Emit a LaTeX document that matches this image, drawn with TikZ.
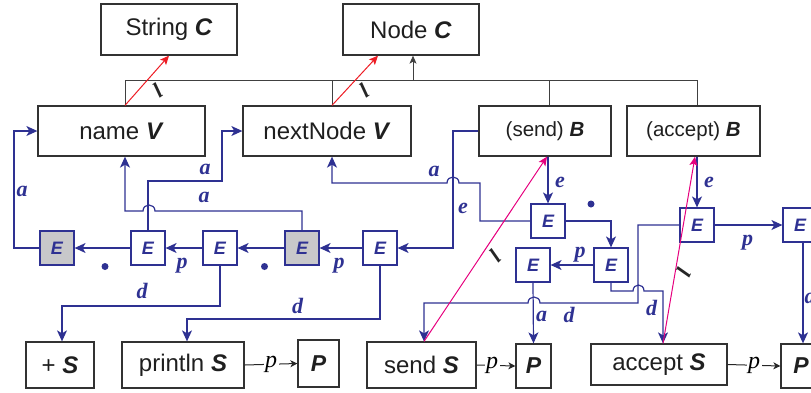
\documentclass[tikz,border=0pt]{standalone}
\usepackage{fontspec}
\setmainfont{Liberation Sans}
\newfontfamily\serifl{Liberation Serif}
\usetikzlibrary{arrows.meta}
\definecolor{eblue}{RGB}{46,49,146}
\definecolor{egrey}{RGB}{200,200,202}
\definecolor{emag}{RGB}{230,0,126}
\definecolor{ered}{RGB}{237,28,36}
\definecolor{bord}{RGB}{50,50,50}
\newcommand\BI[1]{\textbf{\textit{#1}}}
\begin{document}
\begin{tikzpicture}[x=1pt,y=-1pt,
  box/.style={draw=bord, line width=1.3pt, inner sep=0pt, text=black!88, font=\fontsize{24}{28}\selectfont},
  sbox/.style={box, font=\fontsize{20.5}{24}\selectfont},
  pbox/.style={box, font=\fontsize{23}{26}\selectfont\bfseries\itshape},
  ebox/.style={draw=eblue, line width=1.2pt, minimum width=34pt, minimum height=34pt, inner sep=0pt, text=eblue, font=\fontsize{18}{20}\selectfont\bfseries\itshape},
  egbox/.style={ebox, fill=egrey},
  bl/.style={draw=eblue, line width=1.2pt, -{Stealth[length=11pt,width=10pt,inset=3pt]}},
  lab/.style={text=eblue, inner sep=0pt, font=\serifl\fontsize{22}{24}\selectfont\bfseries\itshape},
  blab/.style={text=black, fill=white, inner sep=1.5pt, font=\serifl\fontsize{24}{26}\selectfont\itshape},
  dot/.style={circle, fill=eblue, inner sep=0pt, minimum size=7pt},
  hier/.style={draw=black!75, line width=1pt},
  rd/.style={draw=ered, line width=1pt, -{Stealth[length=9pt,width=8pt,inset=2pt]}},
  mg/.style={draw=emag, line width=1pt, -{Stealth[length=9pt,width=8pt,inset=2pt]}},
  ins/.style={text=black!85, inner sep=0pt, font=\serifl\fontsize{22}{24}\selectfont\bfseries\itshape},
  sp/.style={draw=black!85, line width=1pt, -{Stealth[length=7pt,width=7pt,inset=2pt]}}
]
\useasboundingbox (0,0) rectangle (811,392);

% top classes
\node[box, minimum width=136pt, minimum height=51pt] (strC) at (169,29.5) {String \BI{C}};
\node[box, minimum width=136pt, minimum height=51pt] (nodeC) at (411,29.5) {Node \BI{C}};

% second row
\node[box, minimum width=167pt, minimum height=50pt] (nameV) at (121.5,131) {name \BI{V}};
\node[box, minimum width=168pt, minimum height=50pt] (nextV) at (327,131) {nextNode \BI{V}};
\node[sbox, minimum width=132pt, minimum height=50pt] (sendB) at (545,131) {(send) \BI{B}};
\node[sbox, minimum width=133pt, minimum height=50pt] (accB) at (693.5,131) {(accept) \BI{B}};

% E row
\node[egbox] (E1) at (57,248) {E};
\node[ebox] (E2) at (148,248) {E};
\node[ebox] (E3) at (220,248) {E};
\node[egbox] (E4) at (302,248) {E};
\node[ebox] (E5) at (380,248) {E};
\node[ebox] (Es1) at (548,221) {E};
\node[ebox] (Es2) at (611,265) {E};
\node[ebox] (Es3) at (533,265) {E};
\node[ebox] (Ea1) at (697,225) {E};
\node[ebox] (Ea2) at (800,225) {E};

% bottom row
\node[box, minimum width=68pt, minimum height=46pt] (plusS) at (60,365) {+ \BI{S}};
\node[box, minimum width=122pt, minimum height=46pt] (printS) at (183,365) {println \BI{S}};
\node[pbox, minimum width=41pt, minimum height=47pt] (P1) at (318.5,363.5) {P};
\node[box, minimum width=109pt, minimum height=46pt] (sendS) at (421.5,365) {send \BI{S}};
\node[pbox, minimum width=35pt, minimum height=44pt] (P2) at (533.5,366) {P};
\node[box, minimum width=136pt, minimum height=41pt] (accS) at (659,364.5) {accept \BI{S}};
\node[pbox, minimum width=40pt, minimum height=44pt] (P3) at (801,366) {P};

% hierarchy
\coordinate (barL) at (125,80);
\coordinate (barR) at (697,80);
\coordinate (barN) at (332,80);
\coordinate (barS) at (549,80);
\coordinate (hub) at (413,80);
\draw[hier] ([xshift=3.5pt]nameV.north) -- (barL) -- (barR) -- ([xshift=3.5pt]accB.north);
\draw[hier] ([xshift=5pt]nextV.north) -- (barN);
\draw[hier] ([xshift=4pt]sendB.north) -- (barS);
\draw[hier, -{Stealth[length=8pt,width=7pt,inset=2pt]}] (hub) -- ([xshift=2pt]nodeC.south);

% red instance arrows
\draw[rd] ([xshift=3.5pt]nameV.north) -- (strC.south);
\draw[rd] ([xshift=5pt]nextV.north) -- ([xshift=-33pt]nodeC.south);
\node[ins, rotate=35] (i1) at (157.5,90) {l};
\node[ins, rotate=35] (i2) at (364,90) {l};

% E chain
\draw[bl] (E5.west) -- (E4.east);
\draw[bl] (E4.west) -- (E3.east);
\draw[bl] (E3.west) -- (E2.east);
\draw[bl] (E2.west) -- (E1.west -| E1.east);
\node[lab] (l1) at (339,266) {p};
\node[dot] (d1) at (264.5,266.5) {};
\node[lab] (l2) at (182,266) {p};
\node[dot] (d2) at (105,266.5) {};

% a-links
\draw[bl] (E1.west) -- (14,248) -- (14,131) -- (nameV.west);
\node[lab] (l3) at (22,191) {a};
\draw[bl] (E4.north) -- (302,211) -- (155,211) .. controls (155,203) and (143,203) .. (143,211) -- (125,211) -- ([xshift=3.5pt]nameV.south);
\node[lab] (l4) at (204,197) {a};
\draw[bl] (E2.north) -- (148,181) -- (222,181) -- (222,131) -- (nextV.west);
\node[lab] (l5) at (205,169) {a};
\draw[bl] (Es1.west) -- (480,221) -- (480,183) -- (459,183) .. controls (459,175) and (447,175) .. (447,183) -- (332,183) -- ([xshift=5pt]nextV.south);
\node[lab] (l6) at (434,171) {a};

% e-links
\draw[bl] (sendB.west) -- (453,131) -- (453,248) -- (E5.east);
\node[lab] (l7) at (463,208) {e};
\draw[bl] ([xshift=3pt]sendB.south) -- (Es1.north);
\node[lab] (l8) at (560,182) {e};
\draw[bl] ([xshift=3.5pt]accB.south) -- (Ea1.north);
\node[lab] (l9) at (709,182) {e};

% right group
\draw[bl] (Es1.east) -| (Es2.north);
\node[dot] (d3) at (591,204) {};
\draw[bl] (Es2.west) -- (Es3.east);
\node[lab] (l10) at (580,255) {p};
\draw[bl] (Es3.south) -- (P2.north);
\node[lab] (l11) at (541.5,316) {a};
\draw[bl] (Es2.south) -- (611,291) -- (633,291) .. controls (633,283) and (644,283) .. (644,291) -- (663,291) -- ([xshift=4pt]accS.north);
\node[lab] (l12) at (651.5,308) {d};
\draw[bl] (Ea1.west) -- (638,225) -- (638,303) -- (540,303) .. controls (540,295) and (528,295) .. (528,303) -- (424,303) -- ([xshift=2.5pt]sendS.north);
\node[lab] (l13) at (569,315) {d};
\draw[bl] (Ea1.east) -- (Ea2.west);
\node[lab] (l14) at (747.5,243) {p};
\draw[bl] ([xshift=3pt]Ea2.south) -- ([xshift=2pt]P3.north);
\node[lab] (l15) at (810,296) {d};

% d-links left
\draw[bl] (E3.south) -- (220,306) -- (62,306) -- ([xshift=2pt]plusS.north);
\node[lab] (l16) at (142,291) {d};
\draw[bl] (E5.south) -- (380,319) -- (187,319) -- ([xshift=4pt]printS.north);
\node[lab] (l17) at (297.5,306) {d};

% magenta instance arrows
\draw[mg] ([xshift=2.5pt]sendS.north) -- ([xshift=2pt]sendB.south);
\draw[mg] ([xshift=4pt]accS.north) -- ([xshift=1.5pt]accB.south);
\node[ins, rotate=45] (i3) at (495,256) {l};
\node[ins, rotate=65] (i4) at (683.5,272.5) {l};

% statement to P
\draw[sp] (printS.east) -- node[blab] (q1) {p} (P1.west);
\draw[sp] (sendS.east) -- node[blab, pos=0.4] (q2) {p} (P2.west);
\draw[sp] (accS.east) -- node[blab] (q3) {p} (P3.west);
\end{tikzpicture}
\end{document}
